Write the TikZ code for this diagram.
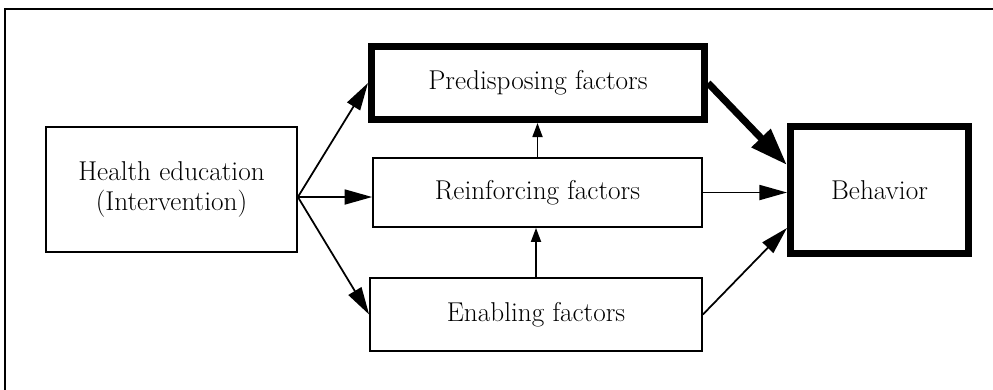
\documentclass[tikz,border=0pt]{standalone}
\usepackage{fontspec}
\usetikzlibrary{arrows.meta}

\begin{document}
\begin{tikzpicture}[
  x=1cm, y=1cm, font=\fontsize{15.5}{17}\selectfont,
  box/.style={draw, line width=1pt, minimum width=#1, align=center, inner sep=0pt},
  thickbox/.style={box=#1, line width=4pt},
  arr/.style={-{Triangle[length=0.55cm, width=0.3cm]}, line width=1pt},
  uparr/.style={-{Triangle[length=0.28cm, width=0.2cm]}, line width=1pt},
  bigarr/.style={-{Triangle[length=0.75cm, width=0.5cm]}, line width=4pt}
]
\useasboundingbox (0, 0) rectangle (19.86, -7.78);
\clip (0, 0) rectangle (19.86, -7.78);

%% Outer frame (open to the right and below)
\draw[line width=1.2pt] (20.2, -0.18) -| (0.1, -8.2);

%% Intervention
\node[box=5.02cm, minimum height=2.5cm] (health) at (3.43, -3.79) {Health education\\(Intervention)};

%% Three factors
\node[thickbox=6.66cm, minimum height=1.46cm] (predisposing) at (10.76, -1.66) {Predisposing factors};
\node[box=6.58cm, minimum height=1.38cm] (reinforcing) at (10.75, -3.85) {Reinforcing factors};
\node[box=6.64cm, minimum height=1.46cm] (enabling) at (10.72, -6.29) {Enabling factors};

%% Outcome
\node[thickbox=3.56cm, minimum height=2.54cm] (behavior) at (17.59, -3.8) {Behavior};

%% Arrows
\coordinate (split) at ([yshift=-1.5mm]health.east);
\draw[arr] (split) -- (predisposing.west);
\draw[arr] (split) -- (split -| reinforcing.west);
\draw[arr] (split) -- (enabling.west);
\draw[uparr] (enabling.north) -- (enabling.north |- reinforcing.south);
\draw[uparr] (reinforcing.north) -- (reinforcing.north |- predisposing.south);
\draw[bigarr] (predisposing.east) -- ([yshift=0.5cm]behavior.west);
\draw[arr] (reinforcing.east) -- (reinforcing.east -| behavior.west);
\draw[arr] (enabling.east) -- ([yshift=-0.76cm]behavior.west);
\end{tikzpicture}
\end{document}
